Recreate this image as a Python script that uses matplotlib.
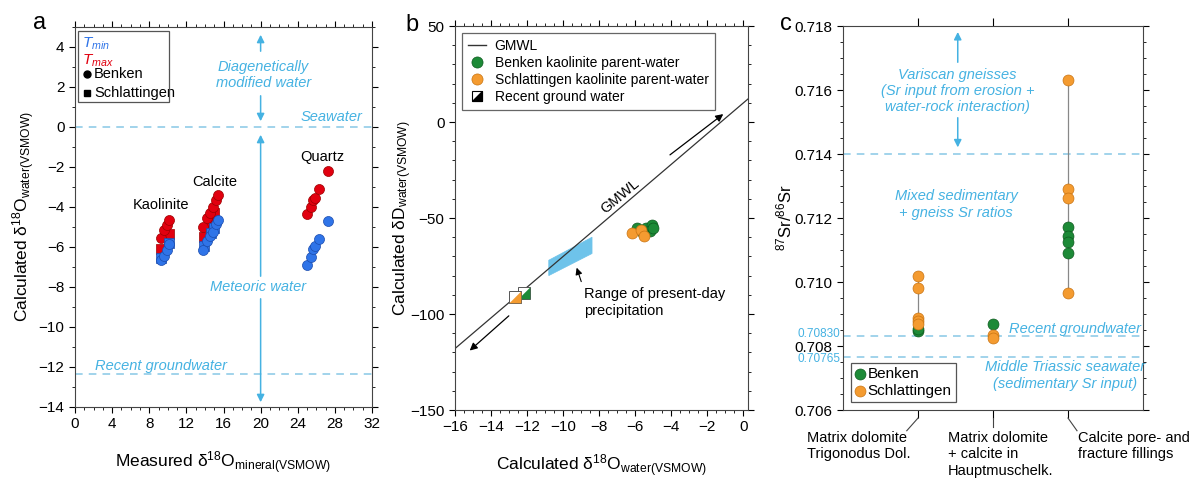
import matplotlib
matplotlib.use('Agg')
import matplotlib.pyplot as plt
from matplotlib.lines import Line2D
from matplotlib.patches import Polygon, Rectangle
from matplotlib.legend_handler import HandlerTuple
from matplotlib.ticker import MultipleLocator, FormatStrFormatter
import matplotlib.transforms as mtrans

plt.rcParams['font.family'] = ['Liberation Sans', 'DejaVu Sans']
plt.rcParams['mathtext.fontset'] = 'custom'
plt.rcParams['mathtext.rm'] = 'Liberation Sans'
plt.rcParams['mathtext.it'] = 'Liberation Sans:italic'
plt.rcParams['mathtext.bf'] = 'Liberation Sans:bold'

# --- panel a: mineral d18O vs calculated water d18O
kao_bk_x = [9.3, 9.6, 9.9, 10.1]
kao_bk_tmax = [-5.55, -5.15, -4.9, -4.65]
kao_bk_tmin = [-6.65, -6.45, -6.15, -5.85]
kao_sl_x = [9.3, 10.1]
kao_sl_tmax = [-6.1, -5.35]
kao_sl_tmin = [-6.55, -5.8]

cal_bk_x = [13.8, 14.2, 14.5, 14.9, 15.2, 15.4]
cal_bk_tmax = [-5.0, -4.55, -4.3, -4.0, -3.65, -3.4]
cal_bk_tmin = [-6.15, -5.7, -5.45, -5.25, -4.85, -4.65]
cal_sl_x = [13.9, 14.7, 15.0]
cal_sl_tmax = [-5.5, -4.75, -4.3]
cal_sl_tmin = [-5.95, -5.3, -5.05]

qtz_bk_x = [25.0, 25.4, 25.6, 25.9, 26.3, 27.3]
qtz_bk_tmax = [-4.35, -4.0, -3.65, -3.55, -3.1, -2.2]
qtz_bk_tmin = [-6.9, -6.5, -6.1, -5.95, -5.6, -4.7]

# --- panel b: d18O vs dD
bk_d18o = [-5.9, -5.4, -5.1, -5.2, -5.6, -5.0]
bk_dD = [-55.4, -55.4, -53.8, -57.0, -58.0, -55.0]
sl_d18o = [-6.2, -5.7, -5.5]
sl_dD = [-58.0, -56.0, -59.4]
gw_d18o = [-12.7, -12.2]
gw_dD = [-91.0, -89.0]
gmwl_x = [-16.0, 0.25]
gmwl_y = [-118.0, 12.0]
precip_x = [-10.8, -8.4, -8.4, -10.8]
precip_y = [-72.0, -60.0, -68.5, -80.0]

# --- panel c: 87Sr/86Sr
cats = ['Matrix dolomite\nTrigonodus Dol.',
        'Matrix dolomite\n+ calcite in\nHauptmuschelk.',
        'Calcite pore- and\nfracture fillings']
benken_sr = [[0.70847, 0.70852], [0.70869], [0.71172, 0.71143, 0.71125, 0.71090]]
schl_sr = [[0.71019, 0.70981, 0.70888, 0.70878, 0.70869], [0.70834, 0.70825],
           [0.71630, 0.71290, 0.71262, 0.70966]]

red, red_e = '#e1000f', '#9c0000'
blue, blue_e = '#2f74e8', '#1b4cae'
green, green_e = '#1d8a37', '#0e5a1f'
orange, orange_e = '#f49b30', '#c97412'
ltblue = '#45b2e2'
dash = '#88c8e6'

fig = plt.figure(figsize=(11.92, 4.79), dpi=100)

def style(ax):
    ax.tick_params(which='both', direction='out', top=True, right=True, labelsize=11)
    ax.tick_params(which='major', length=4)
    ax.tick_params(which='minor', length=2.5)
    for s in ax.spines.values():
        s.set_color('#444444')

# ================= a
ax = fig.add_axes([75/1192, 1-407/479, 297/1192, 380/479])
ax.set_xlim(0, 32)
ax.set_ylim(-14, 5)
ax.xaxis.set_major_locator(MultipleLocator(4))
ax.xaxis.set_minor_locator(MultipleLocator(1))
ax.yaxis.set_major_locator(MultipleLocator(2))
ax.yaxis.set_minor_locator(MultipleLocator(1))
ax.set_yticks([-14, -12, -10, -8, -6, -4, -2, 0, 2, 4])
style(ax)

ax.axhline(0, color=dash, ls=(0, (5, 4)), lw=1.1)
ax.axhline(-12.35, color=dash, ls=(0, (5, 4)), lw=1.1)

for xs, ys in [(kao_sl_x, kao_sl_tmax), (cal_sl_x, cal_sl_tmax)]:
    ax.scatter(xs, ys, marker='s', s=48, c=red, edgecolors=red_e, linewidths=0.5, zorder=3)
for xs, ys in [(kao_bk_x, kao_bk_tmax), (cal_bk_x, cal_bk_tmax), (qtz_bk_x, qtz_bk_tmax)]:
    ax.scatter(xs, ys, marker='o', s=52, c=red, edgecolors=red_e, linewidths=0.5, zorder=3)
for xs, ys in [(kao_sl_x, kao_sl_tmin), (cal_sl_x, cal_sl_tmin)]:
    ax.scatter(xs, ys, marker='s', s=48, c=blue, edgecolors=blue_e, linewidths=0.5, zorder=4)
for xs, ys in [(kao_bk_x, kao_bk_tmin), (cal_bk_x, cal_bk_tmin), (qtz_bk_x, qtz_bk_tmin)]:
    ax.scatter(xs, ys, marker='o', s=52, c=blue, edgecolors=blue_e, linewidths=0.5, zorder=4)

ax.text(9.3, -3.9, 'Kaolinite', ha='center', va='center', fontsize=10.5)
ax.text(15.1, -2.75, 'Calcite', ha='center', va='center', fontsize=10.5)
ax.text(26.6, -1.5, 'Quartz', ha='center', va='center', fontsize=10.5)

arr = dict(arrowstyle='-|>', color=ltblue, lw=1.1, mutation_scale=11)
ax.annotate('', xy=(20, 4.75), xytext=(20, 3.65), arrowprops=arr)
ax.annotate('', xy=(20, 0.15), xytext=(20, 1.7), arrowprops=arr)
ax.annotate('', xy=(20, -0.25), xytext=(20, -7.6), arrowprops=arr)
ax.annotate('', xy=(20, -13.9), xytext=(20, -8.45), arrowprops=arr)
ax.text(20.3, 2.6, 'Diagenetically\nmodified water', ha='center', va='center',
        fontsize=10.5, style='italic', color=ltblue, linespacing=1.15)
ax.text(19.7, -8.0, 'Meteoric water', ha='center', va='center', fontsize=10.5,
        style='italic', color=ltblue)
ax.text(31.0, 0.5, 'Seawater', ha='right', va='center', fontsize=10.5,
        style='italic', color=ltblue)
ax.text(9.3, -11.95, 'Recent groundwater', ha='center', va='center', fontsize=10.5,
        style='italic', color=ltblue)

# manual legend
ax.add_patch(Rectangle((0.010, 0.803), 0.306, 0.186, transform=ax.transAxes,
                       fill=False, ec='#555555', lw=0.9, zorder=5))
ax.text(0.025, 0.955, r'$T_{min}$', transform=ax.transAxes, color=blue,
        fontsize=11, va='center')
ax.text(0.025, 0.912, r'$T_{max}$', transform=ax.transAxes, color=red,
        fontsize=11, va='center')
ax.plot([0.040], [0.876], 'o', color='black', ms=5, transform=ax.transAxes, clip_on=False)
ax.plot([0.040], [0.826], 's', color='black', ms=5, transform=ax.transAxes, clip_on=False)
ax.text(0.064, 0.876, 'Benken', transform=ax.transAxes, fontsize=10.5, va='center')
ax.text(0.064, 0.826, 'Schlattingen', transform=ax.transAxes, fontsize=10.5, va='center')

ax.set_xlabel(r'Measured $\mathrm{\delta^{18}}$O$_{\mathrm{mineral(VSMOW)}}$', fontsize=12.5, labelpad=13)
ax.set_ylabel(r'Calculated $\mathrm{\delta^{18}}$O$_{\mathrm{water(VSMOW)}}$', fontsize=12.5, labelpad=1)

# ================= b
bx = fig.add_axes([455/1192, 1-410/479, 293/1192, 384/479])
bx.set_xlim(-16, 0.25)
bx.set_ylim(-150, 50)
bx.xaxis.set_major_locator(MultipleLocator(2))
bx.xaxis.set_minor_locator(MultipleLocator(0.5))
bx.yaxis.set_major_locator(MultipleLocator(50))
bx.yaxis.set_minor_locator(MultipleLocator(10))
style(bx)

bx.add_patch(Polygon(list(zip(precip_x, precip_y)), closed=True, fc='#6ec3ea',
                     ec='#6ec3ea', lw=0.5, zorder=1))
bx.plot(gmwl_x, gmwl_y, color='#333333', lw=0.9, zorder=2)
bx.annotate('', xy=(-1.0, 5.0), xytext=(-4.2, -18.0),
            arrowprops=dict(arrowstyle='-|>', color='black', lw=0.9, mutation_scale=11))
bx.annotate('', xy=(-15.3, -120.0), xytext=(-12.9, -100.0),
            arrowprops=dict(arrowstyle='-|>', color='black', lw=0.9, mutation_scale=11))
bx.text(-6.85, -38.5, 'GMWL', rotation=40, ha='center', va='center', fontsize=10.5)

bx.scatter(bk_d18o, bk_dD, s=62, c=green, edgecolors=green_e, linewidths=0.5, zorder=3)
bx.scatter(sl_d18o, sl_dD, s=62, c=orange, edgecolors=orange_e, linewidths=0.5, zorder=4)

tri = [(-1, -1), (1, -1), (1, 1), (-1, -1)]
for xg, yg, col in zip(gw_d18o[::-1], gw_dD[::-1], [green, orange]):
    bx.plot([xg], [yg], marker='s', ms=8, mfc='white', mec='#555555', mew=0.7, zorder=4)
    bx.plot([xg], [yg], marker=tri, ms=8, mfc=col, mec=col, mew=0.3, zorder=4)

bx.annotate('', xy=(-9.3, -74.5), xytext=(-8.95, -84.5),
            arrowprops=dict(arrowstyle='-|>', color='black', lw=0.8, mutation_scale=10))
bx.text(-8.85, -94, 'Range of present-day\nprecipitation', ha='left', va='center',
        fontsize=10.5, linespacing=1.25)

h_line = Line2D([], [], color='#333333', lw=1)
h_bk = Line2D([], [], ls='', marker='o', ms=8, mfc=green, mec=green_e, mew=0.5)
h_sl = Line2D([], [], ls='', marker='o', ms=8, mfc=orange, mec=orange_e, mew=0.5)
h_sq = Line2D([], [], ls='', marker='s', ms=7, mfc='white', mec='black', mew=0.8)
h_tr = Line2D([], [], ls='', marker=tri, ms=7, mfc='black', mec='black')
lg = bx.legend([h_line, h_bk, h_sl, (h_sq, h_tr)],
               ['GMWL', 'Benken kaolinite parent-water', 'Schlattingen kaolinite parent-water',
                'Recent ground water'],
               handler_map={tuple: HandlerTuple(ndivide=1, pad=0)},
               loc='upper left', bbox_to_anchor=(0.0, 1.0), fontsize=10,
               handlelength=1.3, handletextpad=0.6, labelspacing=0.2, borderpad=0.45,
               fancybox=False, edgecolor='#666666', framealpha=1)
lg.get_frame().set_linewidth(0.9)

bx.set_xlabel(r'Calculated $\mathrm{\delta^{18}}$O$_{\mathrm{water(VSMOW)}}$', fontsize=12.5, labelpad=13)
bx.set_ylabel(r'Calculated $\mathrm{\delta}$D$_{\mathrm{water(VSMOW)}}$', fontsize=12.5, labelpad=-3)

# ================= c
cx = fig.add_axes([843/1192, 1-410/479, 300/1192, 384/479])
cx.set_xlim(0, 4)
cx.set_ylim(0.706, 0.718)
cx.set_xticks([1, 2, 3])
cx.set_xticklabels([])
cx.yaxis.set_major_locator(MultipleLocator(0.002))
cx.yaxis.set_minor_locator(MultipleLocator(0.0005))
cx.yaxis.set_major_formatter(FormatStrFormatter('%.3f'))
style(cx)
cx.tick_params(axis='x', which='major', length=6)
cx.tick_params(axis='x', which='minor', bottom=False, top=False)

cx.axhline(0.714, color=dash, ls=(0, (5, 4)), lw=1.1)
cx.axhline(0.7083, color=dash, ls=(0, (5, 4)), lw=1.1)
cx.axhline(0.70765, color=dash, ls=(0, (5, 4)), lw=1.1)

for i in range(3):
    vals = benken_sr[i] + schl_sr[i]
    cx.plot([i + 1, i + 1], [min(vals), max(vals)], color='#888888', lw=0.9, zorder=2)
    cx.scatter([i + 1] * len(benken_sr[i]), benken_sr[i], s=62, c=green,
               edgecolors=green_e, linewidths=0.5, zorder=3)
    cx.scatter([i + 1] * len(schl_sr[i]), schl_sr[i], s=62, c=orange,
               edgecolors=orange_e, linewidths=0.5, zorder=4)

cx.annotate('', xy=(1.53, 0.71790), xytext=(1.53, 0.71678), arrowprops=arr)
cx.annotate('', xy=(1.53, 0.71412), xytext=(1.53, 0.71522), arrowprops=arr)
cx.text(1.53, 0.71597, 'Variscan gneisses\n(Sr input from erosion +\nwater-rock interaction)',
        ha='center', va='center', fontsize=10.5, style='italic', color=ltblue, linespacing=1.2)
cx.text(1.51, 0.71242, 'Mixed sedimentary\n+ gneiss Sr ratios', ha='center', va='center',
        fontsize=10.5, style='italic', color=ltblue, linespacing=1.2)
cx.text(3.09, 0.70853, 'Recent groundwater', ha='center', va='center',
        fontsize=10.5, style='italic', color=ltblue)
cx.text(2.96, 0.70708, 'Middle Triassic seawater\n(sedimentary Sr input)', ha='center',
        va='center', fontsize=10.5, style='italic', color=ltblue, linespacing=1.2)

yb = mtrans.blended_transform_factory(cx.transAxes, cx.transData)
cx.text(-0.01, 0.70838, '0.70830', transform=yb, ha='right', va='center', fontsize=8.5, color=ltblue)
cx.text(-0.01, 0.70758, '0.70765', transform=yb, ha='right', va='center', fontsize=8.5, color=ltblue)

xb = mtrans.blended_transform_factory(cx.transData, cx.transAxes)
cx.plot([1, 0.85], [-0.021, -0.054], color='#444444', lw=0.8, transform=xb, clip_on=False)
cx.plot([2, 2], [-0.021, -0.044], color='#444444', lw=0.8, transform=xb, clip_on=False)
cx.plot([3, 3.12], [-0.021, -0.054], color='#444444', lw=0.8, transform=xb, clip_on=False)
for xpos, lab in zip([-0.48, 1.4, 3.13], cats):
    cx.text(xpos, -0.055, lab, transform=xb, ha='left', va='top', fontsize=10.5,
            linespacing=1.2)

cx.scatter([], [], s=62, c=green, edgecolors=green_e, linewidths=0.5, label='Benken')
cx.scatter([], [], s=62, c=orange, edgecolors=orange_e, linewidths=0.5, label='Schlattingen')
lg2 = cx.legend(loc='lower left', bbox_to_anchor=(0.0, 0.0), fontsize=11,
                handlelength=0.6, handletextpad=0.2, labelspacing=0.15, borderpad=0.3,
                fancybox=False, edgecolor='#555555', framealpha=1)
lg2.get_frame().set_linewidth(0.9)

cx.set_ylabel(r'$^{87}$Sr/$^{86}$Sr', fontsize=12, labelpad=0)

fig.text(40/1192, 1-23/479, 'a', fontsize=17, ha='center', va='center')
fig.text(412/1192, 1-25/479, 'b', fontsize=17, ha='center', va='center')
fig.text(786/1192, 1-24/479, 'c', fontsize=17, ha='center', va='center')

fig.savefig('out.png', dpi=100)
